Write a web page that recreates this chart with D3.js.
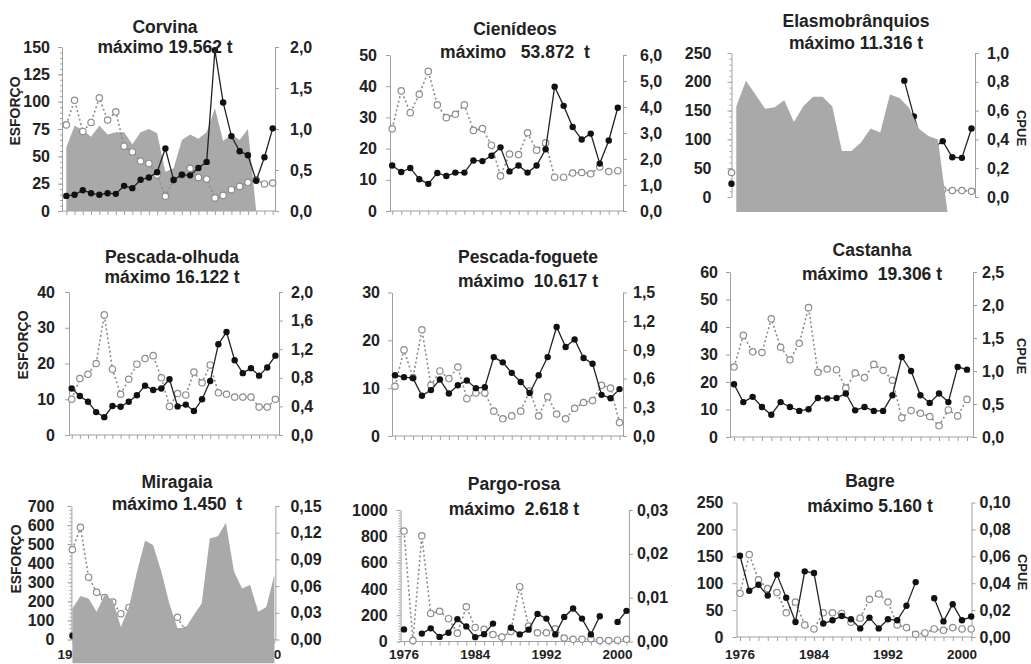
<!DOCTYPE html>
<html>
<head>
<meta charset="utf-8">
<script src="https://cdn.jsdelivr.net/npm/d3@7"></script>
<style>
body { margin: 0; background: #fff; }
text { font-family: "Liberation Sans", Arial, sans-serif; font-weight: bold; fill: #222; }
</style>
</head>
<body>
<svg id="chart" width="1031" height="664"></svg>
<script>
// anos 1976-2001
var years = [1976,1977,1978,1979,1980,1981,1982,1983,1984,1985,1986,1987,1988,
	1989,1990,1991,1992,1993,1994,1995,1996,1997,1998,1999,2000,2001];
var yearTicks = [1976,1984,1992,2000];

// esforço (eixo esquerdo), CPUE (eixo direito), produção (área cinza)
var corvinaEsforco = [13.8,14.8,19,16.3,14.8,16.3,15.7,23,20.9,28.6,30.7,35.4,57.2,28.3,33.2,32.6,39.3,44.9,147,99.3,68.5,54.7,51,27.7,49.2,75.6];
var corvinaCpue = [1.05,1.35,0.97,1.08,1.38,1.11,1.21,0.79,0.72,0.61,0.58,0.44,0.18,0.38,0.44,0.52,0.41,0.39,0.16,0.19,0.26,0.30,0.35,0.38,0.33,0.34];
var corvinaArea = [58,78,74,68,78,70,72,72,61,72,75,71,36,39,65,70,66,72,94,64,70,65,75,0,null,null];

var cienideosEsforco = [14.6,12.5,13.8,10.2,8.7,12.2,11.2,12.3,12.3,16.2,16,17.7,20.4,12.7,14.6,12.3,14.6,19.8,39.8,33.7,26.9,22.9,24.8,15.2,22.6,33.1];
var cienideosCpue = [3.16,4.62,3.78,4.49,5.37,4.08,3.59,3.72,4.08,3.10,3.17,2.53,1.35,2.19,2.17,3.01,2.34,2.62,1.30,1.30,1.46,1.48,1.43,1.69,1.52,1.55];

var elasmoEsforco = [23,null,null,null,null,null,null,null,null,null,null,null,null,null,null,null,null,null,202,140,88,85,97,69,68,119];
var elasmoCpue = [0.17,null,null,null,null,null,null,null,null,null,null,null,null,null,null,null,null,null,null,null,null,null,0.05,0.045,0.045,0.04];
var elasmoArea = [157,202,178,153,156,168,130,158,174,174,157,80,80,95,119,112,178,172,155,119,106,100,-26,null,null,null];

var olhudaEsforco = [13.0,10.9,9.3,6.4,5.0,8.1,7.9,9.3,11.1,13.8,12.6,13.0,15.6,8.0,8.5,6.7,10.0,15.1,25.4,28.8,20.9,17.3,18.7,16.6,18.9,22.2];
var olhudaCpue = [0.50,0.79,0.85,1.00,1.68,0.92,0.57,0.78,0.99,1.07,1.11,0.80,0.40,0.58,0.56,0.88,0.73,0.98,0.59,0.57,0.53,0.53,0.53,0.39,0.39,0.50];

var fogueteEsforco = [12.7,12.3,12.1,8.4,9.6,11.8,8.9,10.6,11.6,10.0,10.2,16.5,15.4,13.2,11.3,9.0,12.7,16.5,22.8,18.6,20.2,16.3,15.1,8.6,7.9,9.8];
var fogueteCpue = [0.52,0.90,0.61,1.11,0.53,0.68,0.60,0.72,0.39,0.45,0.45,0.26,0.18,0.21,0.26,0.47,0.21,0.41,0.23,0.18,0.29,0.35,0.37,0.53,0.50,0.14];

var castanhaEsforco = [19.2,12.7,14.6,10.9,8.1,12.7,10.9,9.5,10.1,14.2,14.0,14.2,15.8,9.7,10.9,9.5,9.5,15.2,29.1,24.0,15.2,12.4,15.8,12.7,25.5,24.5];
var castanhaCpue = [1.06,1.54,1.29,1.28,1.79,1.36,1.17,1.42,1.96,0.98,1.03,1.02,0.74,0.97,0.90,1.10,1.01,0.86,0.29,0.40,0.36,0.31,0.17,0.41,0.32,0.57];

var miragaiaEsforco = [20,null,null,null,null,null,null,null,null,null,null,null,null,null,null,null,null,null,null,null,null,null,null,null,null,null];
var miragaiaCpue = [0.101,0.126,0.070,0.053,0.047,0.042,0.029,0.036,null,null,null,null,null,0.025,0.010,null,null,null,null,null,null,null,null,null,null,null];
var miragaiaArea = [162,228,215,145,233,206,65,171,356,519,494,356,189,60,60,127,189,529,541,612,356,268,286,145,171,339];

var pargoEsforco = [92,null,60,100,35,67,170,115,33,56,136,null,105,54,90,210,174,54,187,251,174,54,192,null,149,233];
var pargoCpue = [0.0252,0.0002,0.0241,0.0064,0.0069,0.0052,0.0019,0.0079,0.0032,0.0028,0.0016,0.0010,0.0023,0.0125,0.0035,0.0020,0.0020,0.0029,0.0008,0.0005,0.0005,0.0006,0.0002,0.0002,0.0003,0.0005];

var bagreEsforco = [151,86,97,77,116,73,28,122,119,25,31,39,33,16,36,16,33,31,58,102,null,72,29,61,31,38];
var bagreCpue = [0.0325,0.0613,0.0425,0.036,0.033,0.018,0.026,0.009,0.006,0.018,0.018,0.0175,0.011,0.014,0.028,0.032,0.026,0.009,0.007,0.002,0.003,0.006,0.005,0.007,0.006,0.006];

// tick labels
var corvinaLeft = [0,25,50,75,100,125,150], corvinaRight = [0,0.5,1,1.5,2];
var cienideosLeft = [0,10,20,30,40,50], cienideosRight = [0,1,2,3,4,5,6];
var elasmoLeft = [0,50,100,150,200,250], elasmoRight = [0,0.2,0.4,0.6,0.8,1];
var olhudaLeft = [0,10,20,30,40], olhudaRight = [0,0.4,0.8,1.2,1.6,2];
var fogueteLeft = [0,10,20,30], fogueteRight = [0,0.3,0.6,0.9,1.2,1.5];
var castanhaLeft = [0,10,20,30,40,50,60], castanhaRight = [0,0.5,1,1.5,2,2.5];
var miragaiaLeft = [0,100,200,300,400,500,600,700], miragaiaRight = [0,0.03,0.06,0.09,0.12,0.15];
var pargoLeft = [0,200,400,600,800,1000], pargoRight = [0,0.01,0.02,0.03];
var bagreLeft = [0,50,100,150,200,250], bagreRight = [0,0.02,0.04,0.06,0.08,0.1];

var panels = [
	{title:"Corvina", sub:"máximo 19.562 t", esf:corvinaEsforco, cpue:corvinaCpue, area:corvinaArea,
	 lt:corvinaLeft, rt:corvinaRight, rfmt:".1f", ax0:62, ax1:275, px0:66.3, px1:272.7, top:47, bottom:211,
	 lgap:12, rgap:15, tx:165, ty1:33, ty2:53, minor:5, esfLabel:[15,111]},
	{title:"Cienídeos", sub:"máximo   53.872  t", esf:cienideosEsforco, cpue:cienideosCpue,
	 lt:cienideosLeft, rt:cienideosRight, rfmt:".1f", ax0:390, ax1:623, px0:392.2, px1:617.8, top:55, bottom:211,
	 lgap:13, rgap:17, tx:515, ty1:35, ty2:58},
	{title:"Elasmobrânquios", sub:"máximo 11.316 t", esf:elasmoEsforco, cpue:elasmoCpue, area:elasmoArea,
	 areaTop:true, areaBase:-26, areaShift:0.5, noXAxis:true,
	 lt:elasmoLeft, rt:elasmoRight, rfmt:".1f", ax0:731.5, ax1:975, px0:731.5, px1:971.5, top:53, bottom:197,
	 lgap:20, rgap:12, tx:856, ty1:27, ty2:49, minor:10, cpueLabel:[1022,128]},
	{title:"Pescada-olhuda", sub:"máximo 16.122 t", esf:olhudaEsforco, cpue:olhudaCpue,
	 lt:olhudaLeft, rt:olhudaRight, rfmt:".1f", ax0:69, ax1:279, px0:71.7, px1:275.4, top:292, bottom:435,
	 lgap:14, rgap:12, tx:172, ty1:263, ty2:283, esfLabel:[23.5,345]},
	{title:"Pescada-foguete", sub:"máximo  10.617 t", esf:fogueteEsforco, cpue:fogueteCpue,
	 lt:fogueteLeft, rt:fogueteRight, rfmt:".1f", ax0:392, ax1:623, px0:395, px1:619.5, top:292.5, bottom:436,
	 lgap:12, rgap:10, tx:528, ty1:263, ty2:287},
	{title:"Castanha", sub:"máximo  19.306 t", esf:castanhaEsforco, cpue:castanhaCpue,
	 lt:castanhaLeft, rt:castanhaRight, rfmt:".1f", ax0:730, ax1:973, px0:734, px1:967, top:272, bottom:437,
	 lgap:12, rgap:9, tx:872, ty1:256, ty2:280, cpueLabel:[1022,356]},
	{title:"Miragaia", sub:"máximo 1.450  t", esf:miragaiaEsforco, cpue:miragaiaCpue, area:miragaiaArea,
	 areaTop:true, areaBase:-125,
	 lt:miragaiaLeft, rt:miragaiaRight, rfmt:".2f", ax0:71.4, ax1:275.4, px0:72.4, px1:274.4, top:506, bottom:639.5,
	 lgap:17, rgap:15, tx:177, ty1:488, ty2:510, minor:20, esfLabel:[16,559], years:true},
	{title:"Pargo-rosa", sub:"máximo  2.618 t", esf:pargoEsforco, cpue:pargoCpue,
	 lt:pargoLeft, rt:pargoRight, rfmt:".2f", ax0:400.6, ax1:628.9, px0:404, px1:626.5, top:510, bottom:641.5,
	 lgap:13, rgap:8, tx:514, ty1:490, ty2:515, minor:20, years:true},
	{title:"Bagre", sub:"máximo 5.160 t", esf:bagreEsforco, cpue:bagreCpue,
	 lt:bagreLeft, rt:bagreRight, rfmt:".2f", ax0:736.5, ax1:971.5, px0:740, px1:971.2, top:502.5, bottom:637,
	 lgap:13, rgap:8, tx:870, ty1:487, ty2:512, cpueLabel:[1022.5,572], years:true}
];

var axisColor = "#a0a0a0";
var areaColor = "#a9a9a9";
var tickFont = 16;
var ptBR = d3.formatLocale({decimal: ",", thousands: ".", grouping: [3], currency: ["R$", ""]});

var svg = d3.select("#chart");

function styleAxis(sel) {
	sel.attr("font-family", null).attr("font-size", null);
	sel.selectAll("path,line").attr("stroke", axisColor);
	sel.selectAll("text").attr("fill", "#222").style("font-size", tickFont + "px");
}

panels.forEach(function(p) {
	var g = svg.append("g");
	var x = d3.scaleLinear().domain([years[0], years[years.length - 1]]).range([p.px0, p.px1]);
	var yL = d3.scaleLinear().domain([0, d3.max(p.lt)]).range([p.bottom, p.top]);
	var yR = d3.scaleLinear().domain([0, d3.max(p.rt)]).range([p.bottom, p.top]);

	// minor ticks on the left axis
	if (p.minor) {
		g.append("g").attr("transform", "translate(" + p.ax0 + ",0)")
			.call(d3.axisLeft(yL).tickValues(d3.range(0, d3.max(p.lt), p.minor)).tickSize(2).tickSizeOuter(0).tickFormat(""))
			.call(styleAxis)
			.select(".domain").remove();
	}

	g.append("g").attr("transform", "translate(" + p.ax0 + ",0)")
		.call(d3.axisLeft(yL).tickValues(p.lt).tickSize(4).tickSizeOuter(0).tickPadding(p.lgap - 4).tickFormat(d3.format("d")))
		.call(styleAxis);

	g.append("g").attr("transform", "translate(" + p.ax1 + ",0)")
		.call(d3.axisRight(yR).tickValues(p.rt).tickSize(4).tickSizeOuter(0).tickPadding(p.rgap - 4).tickFormat(ptBR.format(p.rfmt)))
		.call(styleAxis);

	if (!p.noXAxis) {
		g.append("line")
			.attr("x1", p.ax0).attr("x2", p.ax1)
			.attr("y1", p.bottom).attr("y2", p.bottom)
			.attr("stroke", axisColor);
		g.append("g").attr("transform", "translate(0," + p.bottom + ")")
			.call(d3.axisBottom(x).tickValues(years).tickSize(4).tickSizeOuter(0).tickFormat(""))
			.call(styleAxis)
			.select(".domain").remove();
	}

	if (p.years) {
		g.selectAll(".yr").data(yearTicks).join("text")
			.attr("class", "yr")
			.attr("x", function(d) { return x(d); })
			.attr("y", 659)
			.attr("text-anchor", "middle")
			.style("font-size", "13.5px")
			.text(function(d) { return d; });
	}

	var areaGen = d3.area()
		.defined(function(d) { return d != null; })
		.x(function(d, i) { return x(years[i] + (p.areaShift || 0)); })
		.y0(yL(p.areaBase || 0))
		.y1(function(d) { return yL(d); });

	function drawArea() {
		if (!p.area) return;
		g.append("path").datum(p.area)
			.attr("d", areaGen)
			.attr("fill", areaColor);
	}

	if (!p.areaTop) drawArea();

	// CPUE: dotted line, open circles
	var cpueLine = d3.line()
		.defined(function(d) { return d != null; })
		.x(function(d, i) { return x(years[i]); })
		.y(function(d) { return yR(d); });
	g.append("path").datum(p.cpue)
		.attr("d", cpueLine)
		.attr("fill", "none")
		.attr("stroke", "#8c8c8c")
		.attr("stroke-width", 1.6)
		.attr("stroke-dasharray", "2,2.5");
	g.selectAll(".oc").data(p.cpue.map(function(v, i) { return [years[i], v]; }).filter(function(d) { return d[1] != null; }))
		.join("circle")
		.attr("class", "oc")
		.attr("cx", function(d) { return x(d[0]); })
		.attr("cy", function(d) { return yR(d[1]); })
		.attr("r", 3.2)
		.attr("fill", "#fff")
		.attr("stroke", "#8c8c8c")
		.attr("stroke-width", 1.2);

	// esforço: solid line, filled dots
	var esfLine = d3.line()
		.defined(function(d) { return d != null; })
		.x(function(d, i) { return x(years[i]); })
		.y(function(d) { return yL(d); });
	g.append("path").datum(p.esf)
		.attr("d", esfLine)
		.attr("fill", "none")
		.attr("stroke", "#222")
		.attr("stroke-width", 1.3);
	g.selectAll(".fc").data(p.esf.map(function(v, i) { return [years[i], v]; }).filter(function(d) { return d[1] != null; }))
		.join("circle")
		.attr("class", "fc")
		.attr("cx", function(d) { return x(d[0]); })
		.attr("cy", function(d) { return yL(d[1]); })
		.attr("r", 3.2)
		.attr("fill", "#111");

	if (p.areaTop) drawArea();

	// titles
	g.append("text").attr("x", p.tx).attr("y", p.ty1)
		.attr("text-anchor", "middle").style("font-size", "17.5px")
		.text(p.title);
	g.append("text").attr("x", p.tx).attr("y", p.ty2)
		.attr("text-anchor", "middle").style("font-size", "17.5px").style("white-space", "pre")
		.text(p.sub);

	if (p.esfLabel) {
		g.append("text")
			.attr("transform", "translate(" + p.esfLabel[0] + "," + p.esfLabel[1] + ") rotate(-90)")
			.attr("text-anchor", "middle").attr("dy", "0.35em")
			.style("font-size", "14px")
			.text("ESFORÇO");
	}
	if (p.cpueLabel) {
		g.append("text")
			.attr("transform", "translate(" + p.cpueLabel[0] + "," + p.cpueLabel[1] + ") rotate(90)")
			.attr("text-anchor", "middle").attr("dy", "0.35em")
			.style("font-size", "13px")
			.text("CPUE");
	}
});
</script>
</body>
</html>
